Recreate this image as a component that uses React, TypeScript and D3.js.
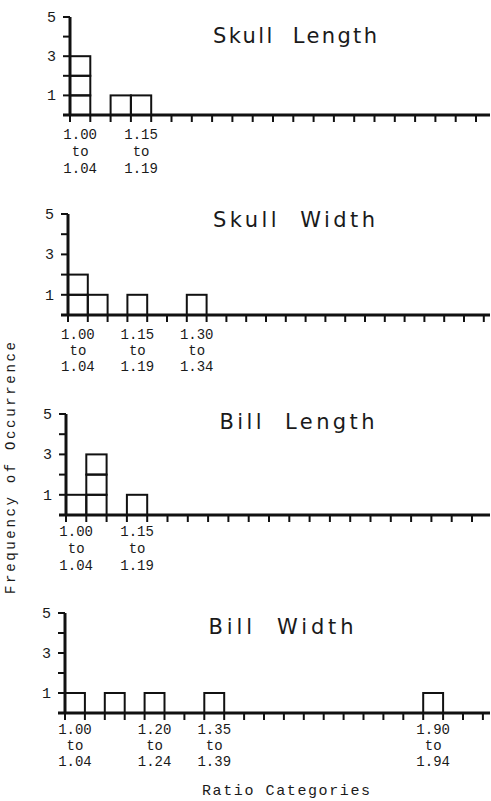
import React from "react";
import * as d3 from "d3";

// ---- data ----
const panelTitles = ["Skull  Length", "Skull  Width", "Bill  Length", "Bill  Width"];
// bin start values (ratio) and counts for each panel
const skullLengthBins = [1.0, 1.1, 1.15];
const skullLengthCounts = [3, 1, 1];
const skullWidthBins = [1.0, 1.05, 1.15, 1.3];
const skullWidthCounts = [2, 1, 1, 1];
const billLengthBins = [1.0, 1.05, 1.15];
const billLengthCounts = [1, 3, 1];
const billWidthBins = [1.0, 1.1, 1.2, 1.35, 1.9];
const billWidthCounts = [1, 1, 1, 1, 1];
// labelled categories for each panel
const skullLengthLabels = [1.0, 1.15];
const skullWidthLabels = [1.0, 1.15, 1.3];
const billLengthLabels = [1.0, 1.15];
const billWidthLabels = [1.0, 1.2, 1.35, 1.9];
const yTickLabels = [5, 3, 1];
const yMax = 5;
const binSize = 0.05;
const yAxisTitle = "Frequency of Occurrence";
const xAxisTitle = "Ratio Categories";

const seriesBins = [skullLengthBins, skullWidthBins, billLengthBins, billWidthBins];
const seriesCounts = [skullLengthCounts, skullWidthCounts, billLengthCounts, billWidthCounts];
const seriesLabels = [skullLengthLabels, skullWidthLabels, billLengthLabels, billWidthLabels];

// ---- layout ----
const W = 491;
const H = 801;
const RIGHT = 490;
const layout = [
  { axisX: 70, base: 115, top: 17, binPx: 20.3, titleX: 295, titleY: 43, titleW: 164, lab: [24, 41, 58] },
  { axisX: 68, base: 315, top: 214, binPx: 19.8, titleX: 294, titleY: 227, titleW: 162, lab: [24, 40, 56] },
  { axisX: 66, base: 515, top: 414, binPx: 20.3, titleX: 297, titleY: 429, titleW: 155, lab: [21, 38, 55] },
  { axisX: 65, base: 713, top: 613, binPx: 19.9, titleX: 281, titleY: 634, titleW: 145, lab: [21, 37, 53] },
];

const MONO = "'Liberation Mono', 'DejaVu Sans Mono', monospace";
const SANS = "'DejaVu Sans', 'Noto Sans', sans-serif";

function fmt(v: number) {
  return v.toFixed(2);
}

function Panel({ idx }: { idx: number }) {
  const L = layout[idx];
  const nBins = Math.floor((RIGHT - L.axisX) / L.binPx);
  const x = d3
    .scaleLinear()
    .domain([1.0, 1.0 + nBins * binSize])
    .range([L.axisX, L.axisX + nBins * L.binPx]);
  const y = d3.scaleLinear().domain([0, yMax]).range([L.base, L.top]);
  const bins = seriesBins[idx];
  const counts = seriesCounts[idx];
  const boxes: { x0: number; x1: number; y0: number; y1: number; key: string }[] = [];
  bins.forEach((b, i) => {
    for (let j = 0; j < counts[i]; j++) {
      boxes.push({ x0: x(b), x1: x(b + binSize), y0: y(j + 1), y1: y(j), key: `${i}-${j}` });
    }
  });
  const xTicks = d3.range(0, nBins + 1).map((k) => 1.0 + k * binSize);
  const yTicks = d3.range(1, yMax + 1);
  return (
    <g>
      <text
        x={L.titleX}
        y={L.titleY}
        textAnchor="middle"
        fontFamily={SANS}
        fontSize={21}
        textLength={L.titleW}
        lengthAdjust="spacing"
        fill="#1a1a1a"
        style={{ whiteSpace: "pre" }}
      >
        {panelTitles[idx]}
      </text>
      {boxes.map((b) => (
        <rect
          key={b.key}
          x={b.x0}
          y={b.y0}
          width={b.x1 - b.x0}
          height={b.y1 - b.y0}
          fill="none"
          stroke="#111"
          strokeWidth={2}
        />
      ))}
      {/* y axis */}
      <line x1={L.axisX} x2={L.axisX} y1={y(0) + 1} y2={y(yMax)} stroke="#111" strokeWidth={3} />
      {yTicks.map((t) => (
        <line key={t} x1={L.axisX - 7} x2={L.axisX} y1={y(t)} y2={y(t)} stroke="#111" strokeWidth={2} />
      ))}
      {yTickLabels.map((t) => (
        <text
          key={t}
          x={L.axisX - 14}
          y={y(t) + 5}
          textAnchor="end"
          fontFamily={MONO}
          fontSize={15}
          fill="#1a1a1a"
        >
          {t}
        </text>
      ))}
      {/* x axis */}
      <line x1={L.axisX - 7} x2={RIGHT} y1={y(0)} y2={y(0)} stroke="#111" strokeWidth={3} />
      {xTicks.map((t, k) => (
        <line key={k} x1={x(t)} x2={x(t)} y1={y(0)} y2={y(0) + 7} stroke="#111" strokeWidth={2} />
      ))}
      {seriesLabels[idx].map((v) => {
        const cx = x(v + binSize / 2);
        return (
          <g key={v} fontFamily={MONO} fontSize={14} fill="#1a1a1a" textAnchor="middle">
            <text x={cx} y={L.base + L.lab[0]}>{fmt(v)}</text>
            <text x={cx} y={L.base + L.lab[1]}>to</text>
            <text x={cx} y={L.base + L.lab[2]}>{fmt(v + binSize - 0.01)}</text>
          </g>
        );
      })}
    </g>
  );
}

export default function App() {
  return (
    <svg
      width={W}
      height={H}
      viewBox={`0 0 ${W} ${H}`}
      style={{ position: "absolute", left: 0, top: 0, background: "#fff", display: "block" }}
    >
      <rect x={0} y={0} width={W} height={H} fill="#fff" />
      {layout.map((_, i) => (
        <Panel key={i} idx={i} />
      ))}
      <text
        transform="translate(15,468) rotate(-90)"
        textAnchor="middle"
        fontFamily={MONO}
        fontSize={14}
        textLength={252}
        lengthAdjust="spacing"
        fill="#1a1a1a"
      >
        {yAxisTitle}
      </text>
      <text
        x={286}
        y={795}
        textAnchor="middle"
        fontFamily={MONO}
        fontSize={15}
        textLength={168}
        lengthAdjust="spacing"
        fill="#1a1a1a"
      >
        {xAxisTitle}
      </text>
    </svg>
  );
}
